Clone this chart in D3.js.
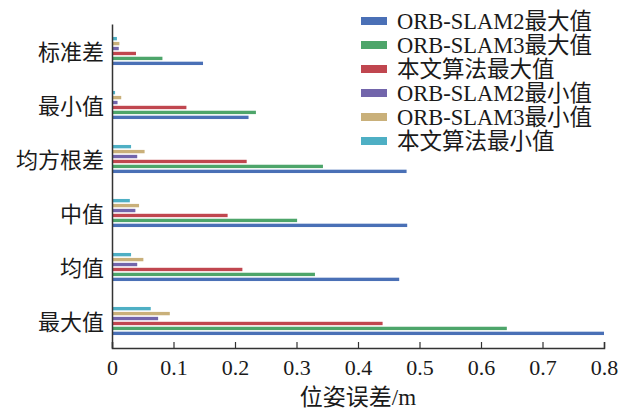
<!DOCTYPE html>
<html>
<head>
<meta charset="utf-8">
<script src="https://cdn.jsdelivr.net/npm/d3@7"></script>
<style>
  html, body { margin: 0; padding: 0; background: #fff; }
  svg text { font-family: "Liberation Serif", "Times New Roman", "Noto Sans CJK SC", serif; fill: #1a1a1a; }
</style>
</head>
<body>
<svg id="chart" width="627" height="413"></svg>
<script>
// Pose error statistics per metric (m)
const categories = ["标准差", "最小值", "均方根差", "中值", "均值", "最大值"];
const seriesNames = ["ORB-SLAM2最大值", "ORB-SLAM3最大值", "本文算法最大值",
                     "ORB-SLAM2最小值", "ORB-SLAM3最小值", "本文算法最小值"];
const seriesColors = ["#4a70b6", "#4da56a", "#c0464f", "#7265ab", "#c9b07a", "#4eafc4"];

const orbslam2Max = [0.148, 0.222, 0.479, 0.480, 0.467, 0.800];
const orbslam3Max = [0.082, 0.234, 0.343, 0.301, 0.330, 0.642];
const oursMax     = [0.039, 0.121, 0.219, 0.188, 0.212, 0.440];
const orbslam2Min = [0.011, 0.009, 0.041, 0.038, 0.041, 0.075];
const orbslam3Min = [0.012, 0.015, 0.053, 0.044, 0.051, 0.094];
const oursMin     = [0.008, 0.005, 0.031, 0.029, 0.031, 0.063];
const seriesValues = [orbslam2Max, orbslam3Max, oursMax, orbslam2Min, orbslam3Min, oursMin];

const xTicks = [0, 0.1, 0.2, 0.3, 0.4, 0.5, 0.6, 0.7, 0.8];
const xTitle = "位姿误差/m";

const svg = d3.select("#chart");
const plotLeft = 112, plotRight = 604, plotTop = 24, plotBottom = 348;

const x = d3.scaleLinear().domain([0, 0.8]).range([plotLeft, plotRight]);
const y = d3.scaleBand().domain(categories).range([plotTop, plotBottom]);

// bars inside each band: first series lowest, last series on top
const groupFrac = 0.52;
const inner = d3.scaleBand()
  .domain(d3.range(seriesNames.length).reverse())
  .range([0, y.bandwidth() * groupFrac])
  .paddingInner(0.32);
const groupOffset = (y.bandwidth() - y.bandwidth() * groupFrac) / 2;

const barsG = svg.append("g");
seriesValues.forEach((vals, si) => {
  barsG.selectAll(null)
    .data(vals.map((v, ci) => ({ v, c: categories[ci] })))
    .enter().append("rect")
    .attr("x", x(0))
    .attr("y", d => y(d.c) + groupOffset + inner(si))
    .attr("width", d => x(d.v) - x(0))
    .attr("height", inner.bandwidth())
    .attr("fill", seriesColors[si]);
});

// x axis with inward ticks
const xAxis = d3.axisBottom(x).tickValues(xTicks).tickSizeInner(-6).tickSizeOuter(-6)
  .tickPadding(11).tickFormat(d => d === 0 ? "0" : d3.format(".1f")(d));
const gx = svg.append("g").attr("transform", `translate(0,${plotBottom})`).call(xAxis);
gx.select(".domain").attr("stroke", "#333").attr("stroke-width", 1.5);
gx.selectAll(".tick line").attr("stroke", "#333").attr("stroke-width", 1.2);
gx.selectAll(".tick text").attr("font-size", 22).attr("dy", "0.71em");

// y axis
const yAxis = d3.axisLeft(y).tickSize(0).tickPadding(8);
const gy = svg.append("g").attr("transform", `translate(${plotLeft},0)`).call(yAxis);
gy.select(".domain").attr("stroke", "#333").attr("stroke-width", 1.5);
gy.selectAll(".tick text").attr("font-size", 22).attr("dy", "0.4em");

// axis title
svg.append("text")
  .attr("x", 358).attr("y", 405)
  .attr("text-anchor", "middle").attr("font-size", 23)
  .text(xTitle);

// legend
const legend = svg.append("g").attr("transform", "translate(361,21)");
seriesNames.forEach((name, i) => {
  const g = legend.append("g").attr("transform", `translate(0,${i * 24})`);
  g.append("rect").attr("x", 0).attr("y", -4).attr("width", 26).attr("height", 8)
    .attr("fill", seriesColors[i]);
  g.append("text").attr("x", 36).attr("y", 0).attr("dy", "0.36em")
    .attr("font-size", 22.5).text(name);
});
</script>
</body>
</html>
